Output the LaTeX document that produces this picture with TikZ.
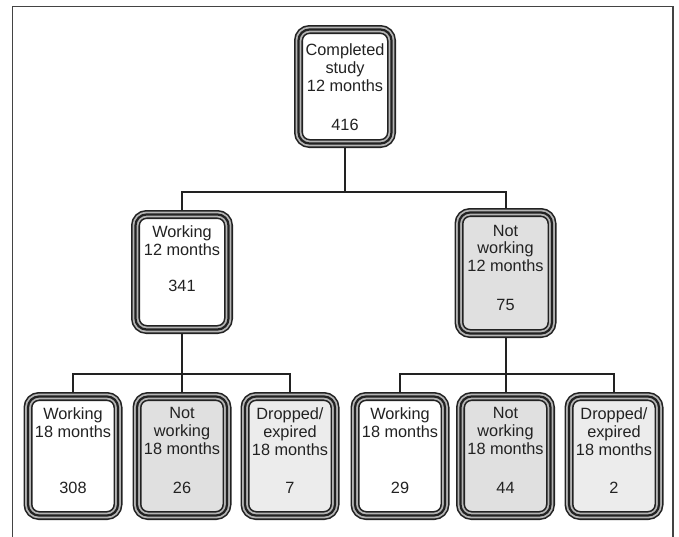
\documentclass[tikz,border=0pt]{standalone}
\usepackage{fontspec}
\setmainfont{Liberation Sans}
\usetikzlibrary{backgrounds}
\definecolor{ink}{HTML}{222222}
\definecolor{gapc}{HTML}{B4B4B4}
\definecolor{speck}{HTML}{E0E0E0}
\definecolor{dropc}{HTML}{ECECEC}
\tikzset{
  box/.style={rectangle, rounded corners=11pt, inner sep=0pt,
    preaction={fill=#1},
    preaction={draw=ink, line width=9pt},
    preaction={draw=gapc, line width=5.8pt},
    draw=ink, line width=2.2pt},
  lbl/.style={font=\fontsize{16.3}{17.8}\selectfont, align=center, inner sep=0pt, text=ink, anchor=north},
  num/.style={font=\fontsize{16.3}{18}\selectfont, inner sep=0pt, text=ink, anchor=base},
  conn/.style={draw=ink, line width=2pt},
  frame/.style={draw=ink!85, line width=1.5pt}
}
\begin{document}
\begin{tikzpicture}[x=1pt,y=-1pt]
\useasboundingbox (0,0) rectangle (679,536);
\draw[frame] (12.5,545) -- (12.5,6.5) -- (673,6.5) -- (673,545);

% level 1
\node[box=white, minimum width=93pt, minimum height=114pt] (top) at (345,86.5) {};
\node[lbl] (topt) at (345,43.4) {Completed\\study\\12 months};
\node[num] (topn) at (345,130) {416};

% level 2
\node[box=white, minimum width=93pt, minimum height=115pt] (w12) at (182,272) {};
\node[lbl] (w12t) at (182,225.2) {Working\\12 months};
\node[num] (w12n) at (182,291.5) {341};

\node[box=speck, minimum width=93pt, minimum height=121pt] (nw12) at (505.5,273) {};
\node[lbl] (nw12t) at (505.5,224.6) {Not\\working\\12 months};
\node[num] (nw12n) at (505.5,310.5) {75};

% level 3
\foreach \n/\x/\c/\t/\v in {
  wa/73/white/{Working\\18 months}/308,
  na/182/speck/{Not\\working\\18 months}/26,
  da/290/dropc/{Dropped/\\expired\\18 months}/7,
  wb/400/white/{Working\\18 months}/29,
  nb/505.5/speck/{Not\\working\\18 months}/44,
  db/614/dropc/{Dropped/\\expired\\18 months}/2}{
  \node[box=\c, minimum width=90pt, minimum height=119pt] (\n) at (\x,456) {};
  \node[lbl] (\n t) at (\x,407.4) {\t};
  \node[num] (\n n) at (\x,493) {\v};
}

\coordinate (bus1) at (0,192);
\coordinate (bus2) at (0,374);

\begin{pgfonlayer}{background}
\draw[conn] (top.south) -- (top.south |- bus1);
\draw[conn] (w12.north) -- (w12.north |- bus1) -- (nw12.north |- bus1) -- (nw12.north);
\draw[conn] (w12.south) -- (na.north);
\draw[conn] (wa.north) -- (wa.north |- bus2) -- (da.north |- bus2) -- (da.north);
\draw[conn] (nw12.south) -- (nb.north);
\draw[conn] (wb.north) -- (wb.north |- bus2) -- (db.north |- bus2) -- (db.north);
\end{pgfonlayer}
\end{tikzpicture}
\end{document}
